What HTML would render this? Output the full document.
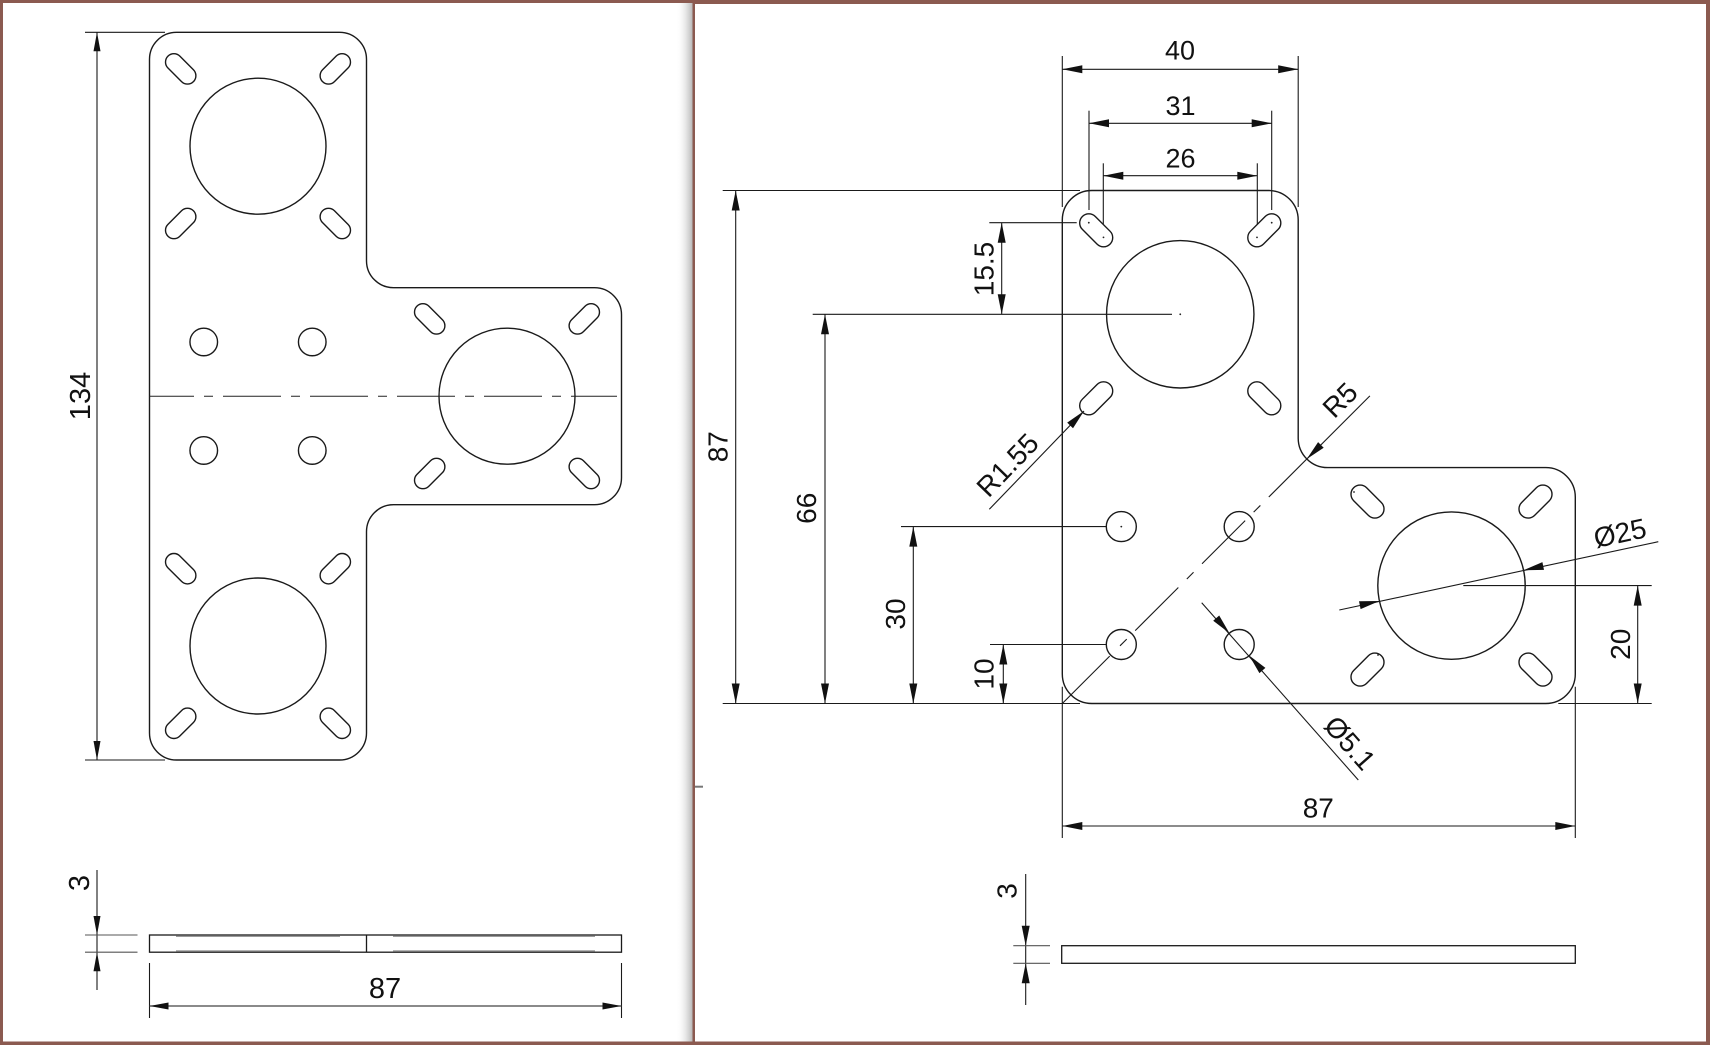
<!DOCTYPE html>
<html>
<head>
<meta charset="utf-8">
<style>
  html, body { margin: 0; padding: 0; background: #ffffff; }
  body { width: 1710px; height: 1045px; overflow: hidden; }
  svg { display: block; }
  text { font-family: "Liberation Sans", Arial, sans-serif; fill: #111; }
</style>
</head>
<body>
<svg xmlns="http://www.w3.org/2000/svg" width="1710" height="1045" viewBox="0 0 1710 1045">
  <defs>
    <linearGradient id="shadow" x1="0" y1="0" x2="1" y2="0">
      <stop offset="0" stop-color="#ffffff" stop-opacity="0"/>
      <stop offset="1" stop-color="#b8b8b8" stop-opacity="1"/>
    </linearGradient>
  </defs>

  <!-- Frame -->
  <rect x="0" y="0" width="1710" height="1045" fill="#8b5a50"/>
  <rect x="3" y="3" width="689.5" height="1038.5" fill="#ffffff"/>
  <rect x="695" y="4" width="1011" height="1037.5" fill="#ffffff"/>
  <rect x="676" y="3" width="16.5" height="1038.5" fill="url(#shadow)"/>
  <line x1="695" y1="786.7" x2="703" y2="786.7" stroke="#777" stroke-width="2"/>

  <!-- ================= LEFT PANEL ================= -->
  <g fill="none" stroke="#1a1a1a" stroke-width="1.4">
    <path d="M149.5,59.3 A27,27 0 0 1 176.5,32.3 L339.5,32.3 A27,27 0 0 1 366.5,59.3 L366.5,260.7 A27,27 0 0 0 393.5,287.7 L594.5,287.7 A27,27 0 0 1 621.5,314.7 L621.5,477.7 A27,27 0 0 1 594.5,504.7 L393.5,504.7 A27,27 0 0 0 366.5,531.7 L366.5,733 A27,27 0 0 1 339.5,760 L176.5,760 A27,27 0 0 1 149.5,733 Z"/>
    <circle cx="258" cy="146.2" r="68"/>
    <circle cx="507" cy="396.2" r="68"/>
    <circle cx="258" cy="646" r="68"/>
    <!-- slots -->
    <rect x="-18" y="-8.4" width="36" height="16.8" rx="8.4" transform="translate(180.7,68.9) rotate(45)"/>
    <rect x="-18" y="-8.4" width="36" height="16.8" rx="8.4" transform="translate(335.3,68.9) rotate(-45)"/>
    <rect x="-18" y="-8.4" width="36" height="16.8" rx="8.4" transform="translate(180.7,223.5) rotate(-45)"/>
    <rect x="-18" y="-8.4" width="36" height="16.8" rx="8.4" transform="translate(335.3,223.5) rotate(45)"/>

    <rect x="-18" y="-8.4" width="36" height="16.8" rx="8.4" transform="translate(429.7,318.9) rotate(45)"/>
    <rect x="-18" y="-8.4" width="36" height="16.8" rx="8.4" transform="translate(584.3,318.9) rotate(-45)"/>
    <rect x="-18" y="-8.4" width="36" height="16.8" rx="8.4" transform="translate(429.7,473.5) rotate(-45)"/>
    <rect x="-18" y="-8.4" width="36" height="16.8" rx="8.4" transform="translate(584.3,473.5) rotate(45)"/>

    <rect x="-18" y="-8.4" width="36" height="16.8" rx="8.4" transform="translate(180.7,568.7) rotate(45)"/>
    <rect x="-18" y="-8.4" width="36" height="16.8" rx="8.4" transform="translate(335.3,568.7) rotate(-45)"/>
    <rect x="-18" y="-8.4" width="36" height="16.8" rx="8.4" transform="translate(180.7,723.3) rotate(-45)"/>
    <rect x="-18" y="-8.4" width="36" height="16.8" rx="8.4" transform="translate(335.3,723.3) rotate(45)"/>
    <!-- small holes -->
    <circle cx="203.75" cy="341.95" r="13.8"/>
    <circle cx="312.25" cy="341.95" r="13.8"/>
    <circle cx="203.75" cy="450.45" r="13.8"/>
    <circle cx="312.25" cy="450.45" r="13.8"/>
  </g>
  <!-- center line -->
  <line x1="149.5" y1="396.2" x2="617" y2="396.2" stroke="#222" stroke-width="1" stroke-dasharray="58 10 9 10" stroke-dashoffset="13.5"/>

  <!-- 134 dimension -->
  <g stroke="#1a1a1a" stroke-width="1.1" fill="none">
    <line x1="85" y1="32.3" x2="165" y2="32.3"/>
    <line x1="85" y1="760" x2="165" y2="760"/>
    <line x1="97" y1="32.3" x2="97" y2="760"/>
  </g>
  <g fill="#111">
    <polygon points="97,32.3 93.5,51.3 100.5,51.3"/>
    <polygon points="97,760 93.5,741 100.5,741"/>
  </g>
  <text transform="translate(90,396) rotate(-90)" text-anchor="middle" font-size="29">134</text>

  <!-- left side view -->
  <g fill="none" stroke="#1a1a1a" stroke-width="1.3">
    <rect x="149.5" y="935" width="472" height="17.2"/>
    <line x1="366.5" y1="935" x2="366.5" y2="952.2"/>
  </g>
  <g stroke="#9a9a9a" stroke-width="1.4">
    <line x1="176" y1="936.3" x2="340" y2="936.3"/>
    <line x1="176" y1="950.9" x2="340" y2="950.9"/>
    <line x1="393" y1="936.3" x2="595" y2="936.3"/>
    <line x1="393" y1="950.9" x2="595" y2="950.9"/>
  </g>
  <g stroke="#1a1a1a" stroke-width="1.1" fill="none">
    <line x1="97" y1="870" x2="97" y2="990"/>
    <line x1="85" y1="935" x2="137.5" y2="935" stroke="#555"/>
    <line x1="85" y1="952.2" x2="137.5" y2="952.2" stroke="#555"/>
    <line x1="149.5" y1="963" x2="149.5" y2="1018"/>
    <line x1="621.5" y1="963" x2="621.5" y2="1018"/>
    <line x1="149.5" y1="1006" x2="621.5" y2="1006" stroke="#444" stroke-width="1.3"/>
  </g>
  <g fill="#111">
    <polygon points="97,935 93.5,916 100.5,916"/>
    <polygon points="97,952.2 93.5,971.2 100.5,971.2"/>
    <polygon points="149.5,1006 168.5,1002.5 168.5,1009.5"/>
    <polygon points="621.5,1006 602.5,1002.5 602.5,1009.5"/>
  </g>
  <text transform="translate(89,883) rotate(-90)" text-anchor="middle" font-size="29">3</text>
  <text x="385" y="998" text-anchor="middle" font-size="29">87</text>

  <!-- ================= RIGHT PANEL ================= -->
  <g fill="none" stroke="#1a1a1a" stroke-width="1.4">
    <path d="M1062.3,220 A29.5,29.5 0 0 1 1091.8,190.5 L1268.7,190.5 A29.5,29.5 0 0 1 1298.2,220 L1298.2,438.1 A29.5,29.5 0 0 0 1327.7,467.6 L1545.8,467.6 A29.5,29.5 0 0 1 1575.3,497.1 L1575.3,674 A29.5,29.5 0 0 1 1545.8,703.5 L1091.8,703.5 A29.5,29.5 0 0 1 1062.3,674 Z"/>
    <circle cx="1180.25" cy="314.3" r="73.7"/>
    <circle cx="1451.5" cy="585.6" r="73.7"/>
    <!-- slots upper -->
    <rect x="-19.55" y="-9.15" width="39.1" height="18.3" rx="9.15" transform="translate(1096.2,230.3) rotate(45)"/>
    <rect x="-19.55" y="-9.15" width="39.1" height="18.3" rx="9.15" transform="translate(1264.3,230.3) rotate(-45)"/>
    <rect x="-19.55" y="-9.15" width="39.1" height="18.3" rx="9.15" transform="translate(1096.2,398.3) rotate(-45)"/>
    <rect x="-19.55" y="-9.15" width="39.1" height="18.3" rx="9.15" transform="translate(1264.3,398.3) rotate(45)"/>
    <!-- slots right -->
    <rect x="-19.55" y="-9.15" width="39.1" height="18.3" rx="9.15" transform="translate(1367.5,501.6) rotate(45)"/>
    <rect x="-19.55" y="-9.15" width="39.1" height="18.3" rx="9.15" transform="translate(1535.5,501.6) rotate(-45)"/>
    <rect x="-19.55" y="-9.15" width="39.1" height="18.3" rx="9.15" transform="translate(1367.5,669.6) rotate(-45)"/>
    <rect x="-19.55" y="-9.15" width="39.1" height="18.3" rx="9.15" transform="translate(1535.5,669.6) rotate(45)"/>
    <!-- holes -->
    <circle cx="1121.3" cy="526.6" r="15"/>
    <circle cx="1239.2" cy="526.6" r="15"/>
    <circle cx="1121.3" cy="644.5" r="15"/>
    <circle cx="1239.2" cy="644.5" r="15"/>
  </g>
  <!-- tiny center dots -->
  <g fill="#222">
    <circle cx="1088.8" cy="222.7" r="0.9"/>
    <circle cx="1103.5" cy="237.4" r="0.9"/>
    <circle cx="1271.7" cy="222.7" r="0.9"/>
    <circle cx="1257.0" cy="237.4" r="0.9"/>
    <circle cx="1121.3" cy="526.6" r="0.9"/>
    <circle cx="1180.25" cy="314.3" r="0.9"/>
    <circle cx="1354" cy="492" r="0.9"/>
    <circle cx="1378" cy="655" r="0.9"/>
  </g>

  <!-- Diagonal centre/leader line -->
  <g stroke="#1a1a1a" stroke-width="1.1" fill="none">
    <line x1="1062.3" y1="703.5" x2="1109.7" y2="656.1"/>
    <line x1="1120" y1="645.8" x2="1268.8" y2="497" stroke-dasharray="9.5 12 61 12"/>
    <line x1="1268.8" y1="497" x2="1369.9" y2="395.9"/>
    <!-- R1.55 leader -->
    <line x1="989.3" y1="509.3" x2="1084" y2="411"/>
    <!-- Ø5.1 leader -->
    <line x1="1201.7" y1="602.7" x2="1358.3" y2="780"/>
    <!-- Ø25 leader -->
    <line x1="1339.3" y1="610" x2="1658.3" y2="541.7"/>
  </g>
  <g fill="#111">
    <!-- R5 arrow -->
    <polygon points="1306.8,459 1323.7,447.7 1318.1,442.1"/>
    <!-- R1.55 arrow -->
    <polygon points="1084,411 1073,428.2 1067.2,422.6"/>
    <!-- Ø5.1 arrows -->
    <polygon points="1229.4,633.1 1213.2,620.75 1219.2,615.45"/>
    <polygon points="1249.2,655.5 1259.4,673.15 1265.4,667.85"/>
    <!-- Ø25 arrows -->
    <polygon points="1379.4,601 1360.6,609.1 1359,601.3"/>
    <polygon points="1523.6,570.2 1544,569.9 1542.4,562.1"/>
  </g>
  <text transform="translate(1346.9,406.9) rotate(-45)" text-anchor="middle" font-size="28">R5</text>
  <text transform="translate(1014.5,471.7) rotate(-46)" text-anchor="middle" font-size="28">R1.55</text>
  <text transform="translate(1342.7,749.4) rotate(48.5)" text-anchor="middle" font-size="28">Ø5.1</text>
  <text transform="translate(1622,542.5) rotate(-12.08)" text-anchor="middle" font-size="28">Ø25</text>

  <!-- Top dimensions -->
  <g stroke="#1a1a1a" stroke-width="1.1" fill="none">
    <line x1="1062.3" y1="56" x2="1062.3" y2="207"/>
    <line x1="1298.2" y1="56" x2="1298.2" y2="207"/>
    <line x1="1062.3" y1="69.3" x2="1298.2" y2="69.3"/>
    <line x1="1089" y1="110.7" x2="1089" y2="210"/>
    <line x1="1271.7" y1="110.7" x2="1271.7" y2="210"/>
    <line x1="1089" y1="123.3" x2="1271.7" y2="123.3"/>
    <line x1="1103.3" y1="163.3" x2="1103.3" y2="224"/>
    <line x1="1257.3" y1="163.3" x2="1257.3" y2="224"/>
    <line x1="1103.3" y1="175.7" x2="1257.3" y2="175.7"/>
  </g>
  <g fill="#111">
    <polygon points="1062.3,69.3 1082.3,65.3 1082.3,73.3"/>
    <polygon points="1298.2,69.3 1278.2,65.3 1278.2,73.3"/>
    <polygon points="1089,123.3 1109,119.3 1109,127.3"/>
    <polygon points="1271.7,123.3 1251.7,119.3 1251.7,127.3"/>
    <polygon points="1103.3,175.7 1123.3,171.7 1123.3,179.7"/>
    <polygon points="1257.3,175.7 1237.3,171.7 1237.3,179.7"/>
  </g>
  <text x="1180" y="59.3" text-anchor="middle" font-size="27">40</text>
  <text x="1180.5" y="115" text-anchor="middle" font-size="27">31</text>
  <text x="1180.5" y="167.7" text-anchor="middle" font-size="27">26</text>

  <!-- Left dimensions (right panel) -->
  <g stroke="#1a1a1a" stroke-width="1.1" fill="none">
    <line x1="722.7" y1="190.5" x2="1080" y2="190.5"/>
    <line x1="989.3" y1="222.7" x2="1076.7" y2="222.7"/>
    <line x1="812.7" y1="314.3" x2="1172" y2="314.3"/>
    <line x1="901" y1="526.6" x2="1106.5" y2="526.6"/>
    <line x1="990" y1="644.5" x2="1106.5" y2="644.5"/>
    <line x1="722.7" y1="703.5" x2="1080" y2="703.5"/>
    <line x1="735.7" y1="190.5" x2="735.7" y2="703.5"/>
    <line x1="1001.7" y1="222.7" x2="1001.7" y2="314.3"/>
    <line x1="825" y1="314.3" x2="825" y2="703.5"/>
    <line x1="913.3" y1="526.6" x2="913.3" y2="703.5"/>
    <line x1="1003.3" y1="644.5" x2="1003.3" y2="703.5"/>
  </g>
  <g fill="#111">
    <polygon points="735.7,190.5 731.7,210.5 739.7,210.5"/>
    <polygon points="735.7,703.5 731.7,683.5 739.7,683.5"/>
    <polygon points="1001.7,222.7 997.7,242.7 1005.7,242.7"/>
    <polygon points="1001.7,314.3 997.7,294.3 1005.7,294.3"/>
    <polygon points="825,314.3 821,334.3 829,334.3"/>
    <polygon points="825,703.5 821,683.5 829,683.5"/>
    <polygon points="913.3,526.6 909.3,546.6 917.3,546.6"/>
    <polygon points="913.3,703.5 909.3,683.5 917.3,683.5"/>
    <polygon points="1003.3,644.5 999.3,664.5 1007.3,664.5"/>
    <polygon points="1003.3,703.5 999.3,683.5 1007.3,683.5"/>
  </g>
  <text transform="translate(727.3,446.7) rotate(-90)" text-anchor="middle" font-size="28">87</text>
  <text transform="translate(993.3,269) rotate(-90)" text-anchor="middle" font-size="28">15.5</text>
  <text transform="translate(816,508.3) rotate(-90)" text-anchor="middle" font-size="28">66</text>
  <text transform="translate(905,614) rotate(-90)" text-anchor="middle" font-size="28">30</text>
  <text transform="translate(993.3,674) rotate(-90)" text-anchor="middle" font-size="28">10</text>

  <!-- 20 dimension -->
  <g stroke="#1a1a1a" stroke-width="1.1" fill="none">
    <line x1="1463.3" y1="585.6" x2="1651.7" y2="585.6"/>
    <line x1="1558.3" y1="703.5" x2="1651.7" y2="703.5"/>
    <line x1="1637.7" y1="585.6" x2="1637.7" y2="703.5"/>
  </g>
  <g fill="#111">
    <polygon points="1637.7,585.6 1633.7,605.6 1641.7,605.6"/>
    <polygon points="1637.7,703.5 1633.7,683.5 1641.7,683.5"/>
  </g>
  <text transform="translate(1630,644.3) rotate(-90)" text-anchor="middle" font-size="28">20</text>

  <!-- bottom 87 dimension -->
  <g stroke="#1a1a1a" stroke-width="1.1" fill="none">
    <line x1="1062.3" y1="686.7" x2="1062.3" y2="838"/>
    <line x1="1575.3" y1="686.7" x2="1575.3" y2="838"/>
    <line x1="1062.3" y1="826" x2="1575.3" y2="826"/>
  </g>
  <g fill="#111">
    <polygon points="1062.3,826 1082.3,822 1082.3,830"/>
    <polygon points="1575.3,826 1555.3,822 1555.3,830"/>
  </g>
  <text x="1318.3" y="817.3" text-anchor="middle" font-size="28">87</text>

  <!-- right side view -->
  <rect x="1061.7" y="945.7" width="513.6" height="17.6" fill="none" stroke="#1a1a1a" stroke-width="1.3"/>
  <g stroke="#1a1a1a" stroke-width="1.1" fill="none">
    <line x1="1025.7" y1="874" x2="1025.7" y2="1005"/>
    <line x1="1013.3" y1="945.7" x2="1050" y2="945.7" stroke="#555"/>
    <line x1="1013.3" y1="963.3" x2="1050" y2="963.3" stroke="#555"/>
  </g>
  <g fill="#111">
    <polygon points="1025.7,945.7 1021.7,925.7 1029.7,925.7"/>
    <polygon points="1025.7,963.3 1021.7,983.3 1029.7,983.3"/>
  </g>
  <text transform="translate(1016.7,891) rotate(-90)" text-anchor="middle" font-size="28">3</text>
</svg>
</body>
</html>
